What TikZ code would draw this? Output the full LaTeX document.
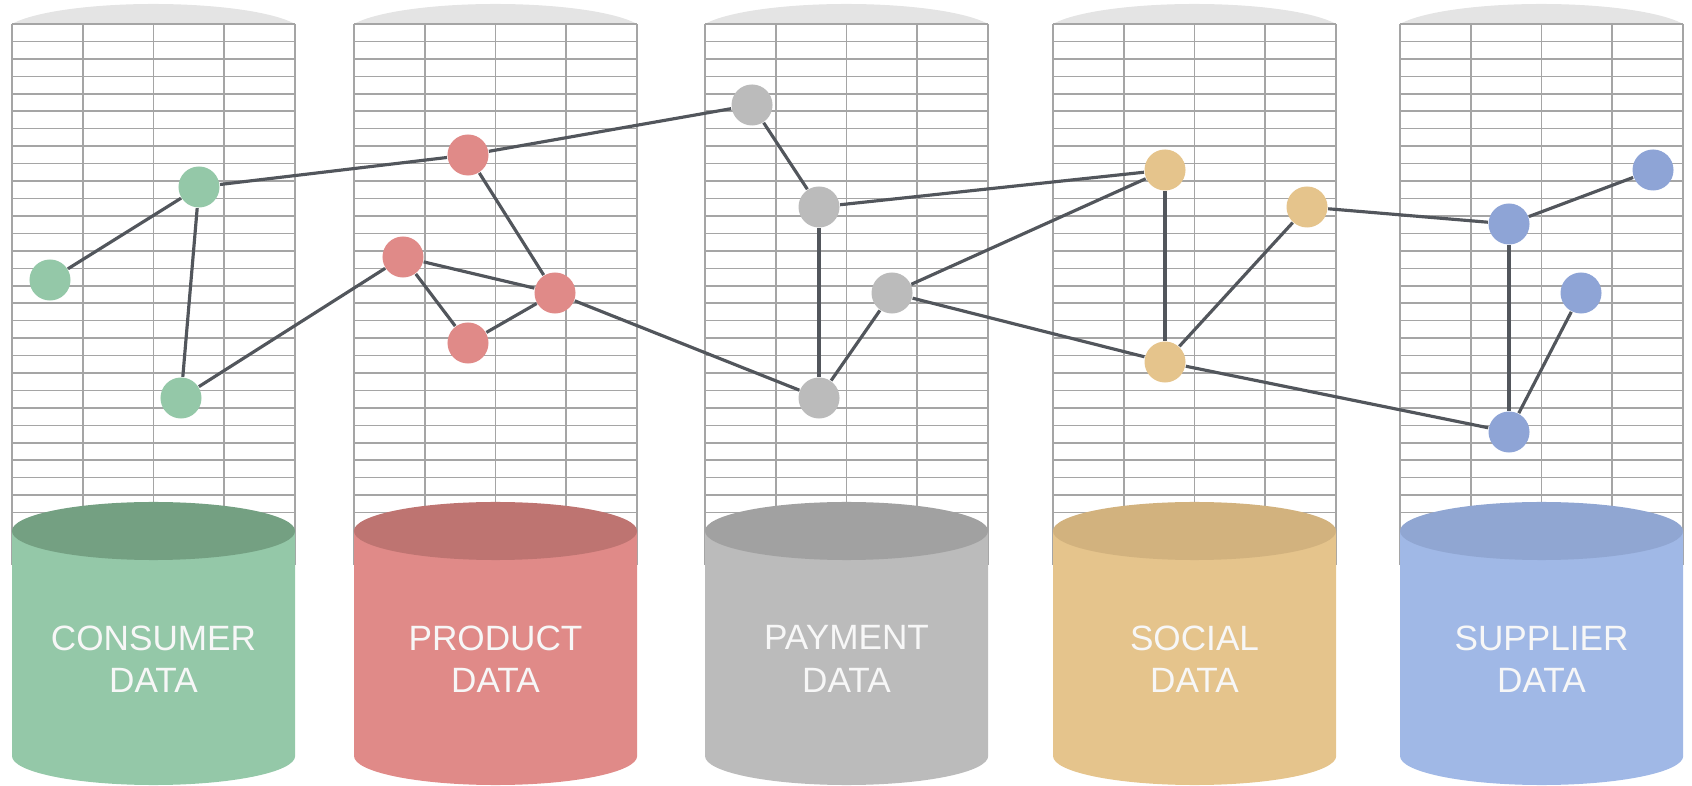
\documentclass[tikz,border=0pt]{standalone}
\usepackage{fontspec}
\setmainfont{Liberation Sans}
\usepackage{tikz}
\usetikzlibrary{positioning}

\definecolor{consumer}{RGB}{148,200,168}
\definecolor{consumertop}{RGB}{116,160,130}
\definecolor{product}{RGB}{224,138,136}
\definecolor{producttop}{RGB}{190,116,113}
\definecolor{payment}{RGB}{187,187,187}
\definecolor{paymenttop}{RGB}{161,161,161}
\definecolor{social}{RGB}{229,196,140}
\definecolor{socialtop}{RGB}{210,178,126}
\definecolor{supplier}{RGB}{160,184,230}
\definecolor{suppliertop}{RGB}{144,166,210}
\definecolor{supplierdot}{RGB}{142,164,214}
\definecolor{linia}{RGB}{82,86,92}
\definecolor{siatka}{RGB}{165,165,165}
\definecolor{kapsel}{RGB}{228,228,228}

\begin{document}
\begin{tikzpicture}[
    x=0.01cm,
    y=-0.01cm,
    gridline/.style={siatka, line width=0.45pt},
    dot/.style={circle, inner sep=0pt, minimum size=0.41cm},
    link/.style={linia, line width=0.9pt},
    label/.style={white!94!gray, align=center,
        font=\fontsize{10}{12}\selectfont}
]

\useasboundingbox (0,0) rectangle (1692,786);

% Tabele, pokrywki i bazy
\foreach \L/\kol/\txt in {
    12/consumer/{CONSUMER\\DATA},
    354/product/{PRODUCT\\DATA},
    705/payment/{PAYMENT\\DATA},
    1053/social/{SOCIAL\\DATA},
    1400/supplier/{SUPPLIER\\DATA}}
{
    \fill[kapsel]
        (\L,24)
        arc[start angle=160.5, end angle=19.5,
            x radius=1.5cm, y radius=0.3cm]
        -- cycle;

    \foreach \r in {0,...,31}
        \draw[gridline]
            (\L,24+\r*17.45) -- (\L+283,24+\r*17.45);

    \foreach \c in {0,...,4}
        \draw[gridline]
            (\L+\c*70.75,24) -- (\L+\c*70.75,565);

    \fill[\kol]
        (\L,531)
        --
        (\L,756)
        arc[start angle=180, end angle=360,
            x radius=1.415cm, y radius=0.29cm]
        --
        (\L+283,531)
        -- cycle;

    \fill[\kol top]
        (\L+141.5,531) ellipse[x radius=1.415cm, y radius=0.29cm];

    \node[label] (\kol-db) at (\L+141.5,659) {\txt};
}

% Punkty
\node[dot, fill=consumer] (c1) at (50,280) {};
\node[dot, fill=consumer] (c2) at (199,187) {};
\node[dot, fill=consumer] (c3) at (181,398) {};

\node[dot, fill=product] (p1) at (468,155) {};
\node[dot, fill=product] (p2) at (403,257) {};
\node[dot, fill=product] (p3) at (555,293) {};
\node[dot, fill=product] (p4) at (468,343) {};

\node[dot, fill=payment] (m1) at (752,105) {};
\node[dot, fill=payment] (m2) at (819,207) {};
\node[dot, fill=payment] (m3) at (892,293) {};
\node[dot, fill=payment] (m4) at (819,398) {};

\node[dot, fill=social] (s1) at (1165,170) {};
\node[dot, fill=social] (s2) at (1307,207) {};
\node[dot, fill=social] (s3) at (1165,362) {};

\node[dot, fill=supplierdot] (u1) at (1653,170) {};
\node[dot, fill=supplierdot] (u2) at (1509,224) {};
\node[dot, fill=supplierdot] (u3) at (1581,293) {};
\node[dot, fill=supplierdot] (u4) at (1509,432) {};

% Połączenia
\draw[link] (c1) -- (c2);
\draw[link] (c2) -- (c3);
\draw[link] (c2) -- (p1);
\draw[link] (c3) -- (p2);

\draw[link] (p1) -- (m1);
\draw[link] (p1) -- (p3);
\draw[link] (p2) -- (p3);
\draw[link] (p2) -- (p4);
\draw[link] (p4) -- (p3);
\draw[link] (p3) -- (m4);

\draw[link] (m1) -- (m2);
\draw[link] (m2) -- (m4);
\draw[link] (m4) -- (m3);
\draw[link] (m2) -- (s1);
\draw[link] (m3) -- (s1);
\draw[link] (m3) -- (s3);

\draw[link] (s1) -- (s3);
\draw[link] (s3) -- (s2);
\draw[link] (s2) -- (u2);
\draw[link] (s3) -- (u4);

\draw[link] (u2) -- (u1);
\draw[link] (u2) -- (u4);
\draw[link] (u4) -- (u3);

\end{tikzpicture}
\end{document}
